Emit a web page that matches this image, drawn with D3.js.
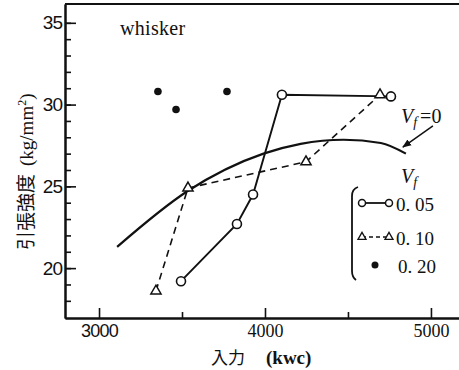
<!DOCTYPE html>
<html>
  <head>
    <meta charset="utf-8">
    <title>whisker</title>
    <style>
      body { margin: 0; background: #fff; }
    </style>
  </head>
  <body>
    <script src="https://d3js.org/d3.v7.min.js"></script>
    <script>
      // series: [input kwc, strength kg/mm2]
      const vf005 = [[3494, 19.2], [3831, 22.7], [3928, 24.5], [4102, 30.6], [4759, 30.5]];
      const vf010 = [[3343, 18.6], [3536, 24.9], [4247, 26.5], [4693, 30.6]];
      const vf020 = [[3355, 30.8], [3464, 29.7], [3771, 30.8]];
      const vf0 = [[3109, 21.3], [3532, 24.7], [3991, 27.0], [4215, 27.6], [4474, 27.85], [4698, 27.65], [4849, 27.0]];

      const xMajor = [3000, 4000, 5000];
      const xMinor = [3500, 4500];
      const yMajor = [20, 25, 30, 35];
      const yMinor = d3.range(18, 36);

      const width = 459, height = 370;
      const plotLeft = 65, plotRight = 459, plotTop = 4, plotBottom = 318;

      const x = d3.scaleLinear().domain([2795, 5169]).range([plotLeft, plotRight]);
      const y = d3.scaleLinear().domain([16.95, 36.15]).range([plotBottom, plotTop]);

      const svg = d3.select("body").append("svg")
        .attr("width", width)
        .attr("height", height)
        .attr("viewBox", [0, 0, width, height]);

      // axes, ticks pointing inward
      svg.append("g")
        .attr("transform", `translate(${plotLeft},0)`)
        .call(d3.axisLeft(y).tickValues(yMinor).tickSizeInner(-6).tickSizeOuter(0).tickFormat(""));
      const yAxis = svg.append("g")
        .attr("transform", `translate(${plotLeft},0)`)
        .call(d3.axisLeft(y).tickValues(yMajor).tickSizeInner(-11).tickSizeOuter(0).tickPadding(3));
      yAxis.selectAll("text")
        .attr("font-family", "Liberation Sans, Arial, sans-serif")
        .attr("font-size", 19)
        .attr("letter-spacing", -1)
        .attr("fill", "#111");

      svg.append("g")
        .attr("transform", `translate(0,${plotBottom})`)
        .call(d3.axisBottom(x).tickValues(xMinor).tickSizeInner(-6).tickSizeOuter(0).tickFormat(""));
      const xAxis = svg.append("g")
        .attr("transform", `translate(0,${plotBottom})`)
        .call(d3.axisBottom(x).tickValues(xMajor).tickSizeInner(-10).tickSizeOuter(0).tickPadding(6).tickFormat(d3.format("d")));
      xAxis.selectAll("text")
        .attr("font-family", d => d == 3000 ? "Liberation Sans, Arial, sans-serif" : "Liberation Serif, Times New Roman, serif")
        .attr("font-size", d => d == 3000 ? 18 : 18)
        .attr("letter-spacing", d => d == 3000 ? -0.8 : 0)
        .attr("fill", "#111");

      svg.selectAll(".domain, .tick line")
        .attr("stroke", "#111")
        .attr("stroke-width", 1.6);
      svg.selectAll(".domain").attr("stroke-width", 2);

      // top frame line
      svg.append("line")
        .attr("x1", plotLeft).attr("x2", plotRight)
        .attr("y1", plotTop).attr("y2", plotTop)
        .attr("stroke", "#111").attr("stroke-width", 2.2);

      const line = d3.line().x(d => x(d[0])).y(d => y(d[1]));

      // Vf = 0 curve
      svg.append("path")
        .datum(vf0)
        .attr("d", line.curve(d3.curveMonotoneX))
        .attr("fill", "none").attr("stroke", "#111").attr("stroke-width", 2.2);

      line.curve(d3.curveLinear);

      // Vf = 0.10 dashed with triangles
      svg.append("path")
        .datum(vf010)
        .attr("d", line)
        .attr("fill", "none").attr("stroke", "#111").attr("stroke-width", 1.6)
        .attr("stroke-dasharray", "7,5");

      // Vf = 0.05 solid with circles
      svg.append("path")
        .datum(vf005)
        .attr("d", line)
        .attr("fill", "none").attr("stroke", "#111").attr("stroke-width", 1.9);

      const tri = d3.symbol().type(d3.symbolTriangle).size(45);
      svg.append("g").selectAll("path")
        .data(vf010)
        .join("path")
        .attr("transform", d => `translate(${x(d[0])},${y(d[1])})`)
        .attr("d", tri)
        .attr("fill", "#fff").attr("stroke", "#111").attr("stroke-width", 1.5);

      svg.append("g").selectAll("circle")
        .data(vf005)
        .join("circle")
        .attr("cx", d => x(d[0])).attr("cy", d => y(d[1]))
        .attr("r", 4.5)
        .attr("fill", "#fff").attr("stroke", "#111").attr("stroke-width", 1.6);

      svg.append("g").selectAll("circle")
        .data(vf020)
        .join("circle")
        .attr("cx", d => x(d[0])).attr("cy", d => y(d[1]))
        .attr("r", 3.8)
        .attr("fill", "#111");

      // annotation arrow for Vf=0
      svg.append("defs").append("marker")
        .attr("id", "head")
        .attr("viewBox", "0 0 10 10")
        .attr("refX", 9).attr("refY", 5)
        .attr("markerWidth", 9).attr("markerHeight", 9)
        .attr("markerUnits", "userSpaceOnUse")
        .attr("orient", "auto")
        .append("path").attr("d", "M0,1 L10,5 L0,9 Z").attr("fill", "#111");

      svg.append("line")
        .attr("x1", x(5012)).attr("y1", y(28.7))
        .attr("x2", x(4831)).attr("y2", y(27.4))
        .attr("stroke", "#111").attr("stroke-width", 1.5)
        .attr("marker-end", "url(#head)");

      const serif = "Liberation Serif, Times New Roman, serif";

      const vfLabel = svg.append("text")
        .attr("x", 401).attr("y", 123)
        .attr("font-family", serif).attr("font-size", 20).attr("fill", "#111");
      vfLabel.append("tspan").attr("font-style", "italic").text("V");
      vfLabel.append("tspan").attr("font-style", "italic").attr("font-size", 14).attr("dy", 4).text("f");
      vfLabel.append("tspan").attr("dy", -4).attr("dx", 3).text("=0");

      svg.append("text")
        .attr("x", 120).attr("y", 35)
        .attr("font-family", serif).attr("font-size", 20).attr("letter-spacing", 0.3).attr("fill", "#111")
        .text("whisker");

      // legend
      const legend = svg.append("g");
      const vfTitle = legend.append("text")
        .attr("x", 401).attr("y", 183)
        .attr("font-family", serif).attr("font-size", 20).attr("fill", "#111");
      vfTitle.append("tspan").attr("font-style", "italic").text("V");
      vfTitle.append("tspan").attr("font-style", "italic").attr("font-size", 14).attr("dy", 4).text("f");

      legend.append("path")
        .attr("d", "M358,187 Q352,189 352,196 L352,271 Q352,277 356,280")
        .attr("fill", "none").attr("stroke", "#111").attr("stroke-width", 1.8);

      const labels = ["0. 05", "0. 10", "0. 20"];
      const rowY = [203, 237, 265];

      legend.append("line")
        .attr("x1", 362).attr("x2", 389).attr("y1", rowY[0]).attr("y2", rowY[0])
        .attr("stroke", "#111").attr("stroke-width", 1.8);
      legend.selectAll(".lc")
        .data([362, 389])
        .join("circle")
        .attr("cx", d => d).attr("cy", rowY[0]).attr("r", 3.5)
        .attr("fill", "#fff").attr("stroke", "#111").attr("stroke-width", 1.5);

      legend.append("line")
        .attr("x1", 362).attr("x2", 389).attr("y1", rowY[1]).attr("y2", rowY[1])
        .attr("stroke", "#111").attr("stroke-width", 1.5).attr("stroke-dasharray", "4,3");
      legend.selectAll(".lt")
        .data([362, 389])
        .join("path")
        .attr("transform", d => `translate(${d},${rowY[1]})`)
        .attr("d", d3.symbol().type(d3.symbolTriangle).size(28))
        .attr("fill", "#fff").attr("stroke", "#111").attr("stroke-width", 1.3);

      legend.append("circle")
        .attr("cx", 375).attr("cy", rowY[2]).attr("r", 3.5).attr("fill", "#111");

      legend.selectAll(".lab")
        .data(labels)
        .join("text")
        .attr("x", (d, i) => i == 2 ? 398 : 396)
        .attr("y", (d, i) => rowY[i] + 8)
        .attr("font-family", serif).attr("font-size", 19).attr("fill", "#111")
        .text(d => d);

      // axis titles
      const xTitle = svg.append("text")
        .attr("x", 211).attr("y", 364)
        .attr("font-size", 17).attr("fill", "#111");
      xTitle.append("tspan").attr("font-family", "Noto Sans CJK JP, sans-serif").text("入力");
      xTitle.append("tspan").attr("font-family", serif).attr("font-size", 19).attr("font-weight", 600).attr("dx", 21).text("(kwc)");

      const yTitle = svg.append("text")
        .attr("transform", "translate(33,250) rotate(-90)")
        .attr("font-size", 19).attr("fill", "#111");
      yTitle.append("tspan").attr("font-family", "Noto Sans CJK JP, sans-serif").text("引張強度");
      yTitle.append("tspan").attr("font-family", serif).attr("dx", 8).text("(kg/mm");
      yTitle.append("tspan").attr("font-family", serif).attr("font-size", 12).attr("dy", -7).text("2");
      yTitle.append("tspan").attr("font-family", serif).attr("dy", 7).text(")");
    </script>
  </body>
</html>
